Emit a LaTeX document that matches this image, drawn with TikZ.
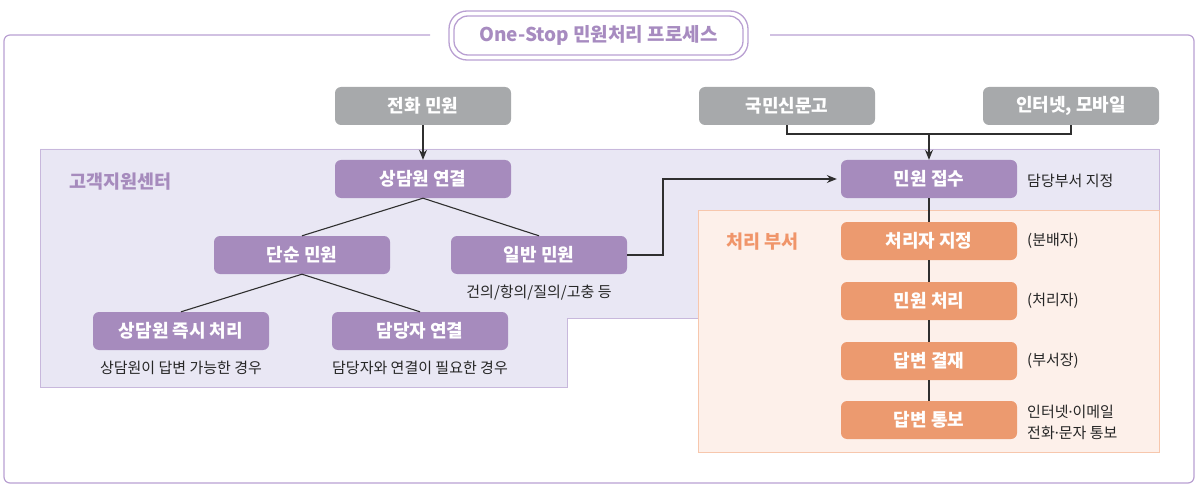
\documentclass[tikz,border=0pt]{standalone}
\usepackage{fontspec}
\setmainfont{Noto Sans CJK KR}
\newfontfamily\kr{Noto Sans CJK KR}
\newfontfamily\latinf{Noto Sans}
\newcommand{\mdot}{{\latinf ·}}
\usetikzlibrary{arrows.meta}
\definecolor{frameP}{HTML}{B9A0D2}
\definecolor{titleP}{HTML}{A78BC0}
\definecolor{boxP}{HTML}{A68BBD}
\definecolor{lavFill}{HTML}{E9E7F4}
\definecolor{lavLine}{HTML}{C8B8DC}
\definecolor{boxO}{HTML}{EC9A6F}
\definecolor{orFill}{HTML}{FDF0EA}
\definecolor{orLine}{HTML}{F7C7AD}
\definecolor{labO}{HTML}{F0956A}
\definecolor{boxG}{HTML}{A7A9AB}
\definecolor{lineD}{HTML}{2F2F2F}
\tikzset{
  stepbox/.style={rounded corners=6pt, minimum width=176pt, minimum height=38pt, inner sep=0pt,
    text=white, font=\kr\bfseries\fontsize{18}{20}\selectfont},
  graybox/.style={stepbox, fill=boxG},
  purplebox/.style={stepbox, fill=boxP},
  orangebox/.style={stepbox, fill=boxO},
  note/.style={font=\kr\fontsize{15}{21}\selectfont, text=black!85, inner sep=0pt},
  conn/.style={draw=lineD, line width=1.1pt},
  arr/.style={conn, -{Stealth[length=10pt,width=8pt]}},
}
\begin{document}
\begin{tikzpicture}[x=1pt,y=-1pt]
\useasboundingbox (0,0) rectangle (1200,492);
% outer frame
\draw[frameP, line width=1.2pt, rounded corners=6pt] (430,35) -- (4,35) -- (4,483) -- (1194,483) -- (1194,35) -- (770,35);
% title
\node[draw=frameP, line width=1.3pt, rounded corners=18pt, minimum width=299pt, minimum height=49pt] (titleouter) at (598.5,35.5) {};
\node[draw=frameP, line width=1.3pt, rounded corners=14pt, minimum width=289pt, minimum height=39pt,
  text=titleP, font=\kr\bfseries\fontsize{19}{21}\selectfont] (title) at (598.5,35.5) {One-Stop 민원처리 프로세스};
% customer center region
\draw[fill=lavFill, draw=lavLine, line width=0.9pt] (40,149) -- (1159,149) -- (1159,318) -- (567,318) -- (567,387) -- (40,387) -- cycle;
\node[text=boxP, font=\kr\bfseries\fontsize{18.5}{20}\selectfont, anchor=west, inner sep=0pt] (center) at (69,182) {고객지원센터};
% processing department region
\draw[fill=orFill, draw=orLine, line width=0.9pt] (698,210) rectangle (1159,452);
\node[text=labO, font=\kr\bfseries\fontsize{18.5}{20}\selectfont, anchor=west, inner sep=0pt] (dept) at (726,242) {처리 부서};
% gray sources
\node[graybox] (tel) at (423,106) {전화 민원};
\node[graybox] (gukmin) at (787,106) {국민신문고};
\node[graybox] (inter) at (1071,106) {인터넷, 모바일};
% purple nodes
\node[purplebox] (sangdam) at (423,179) {상담원 연결};
\node[purplebox] (jeopsu) at (929,179) {민원 접수};
\node[purplebox] (dansun) at (302,255) {단순 민원};
\node[purplebox] (ilban) at (539,255) {일반 민원};
\node[purplebox] (jeuksi) at (181,331) {상담원 즉시 처리};
\node[purplebox] (damdang) at (420,331) {담당자 연결};
% orange nodes
\node[orangebox] (jijeong) at (929,241) {처리자 지정};
\node[orangebox] (cheori) at (929,301) {민원 처리};
\node[orangebox] (gyeoljae) at (929,361) {답변 결재};
\node[orangebox] (tongbo) at (929,420) {답변 통보};
% notes
\node[note] (n1) at (539,293) {건의/항의/질의/고충 등};
\node[note] (n2) at (181,368) {상담원이 답변 가능한 경우};
\node[note] (n3) at (420,368) {담당자와 연결이 필요한 경우};
\node[note, anchor=west] (n4) at (1027,181) {담당부서 지정};
\node[note, anchor=west] (n5) at (1027,241) {(분배자)};
\node[note, anchor=west] (n6) at (1027,301) {(처리자)};
\node[note, anchor=west] (n7) at (1027,361) {(부서장)};
\node[note, anchor=west, align=left] (n8) at (1027,422) {인터넷\mdot 이메일\\전화\mdot 문자 통보};
% connectors
\draw[arr] (tel) -- (sangdam);
\coordinate (join) at (929,134);
\draw[conn] (gukmin.south) |- (join) -| (inter.south);
\draw[arr] (join) -- (jeopsu.north);
\draw[conn] (sangdam.south) -- (dansun.north);
\draw[conn] (sangdam.south) -- (ilban.north);
\draw[conn] (dansun.south) -- (jeuksi.north);
\draw[conn] (dansun.south) -- (damdang.north);
\coordinate (bend) at (663,255);
\draw[arr, shorten >=4pt] (ilban.east) -- (bend) |- (jeopsu.west);
\draw[conn] (jeopsu.south) -- (jijeong.north);
\draw[conn] (jijeong.south) -- (cheori.north);
\draw[conn] (cheori.south) -- (gyeoljae.north);
\draw[conn] (gyeoljae.south) -- (tongbo.north);
\end{tikzpicture}
\end{document}
